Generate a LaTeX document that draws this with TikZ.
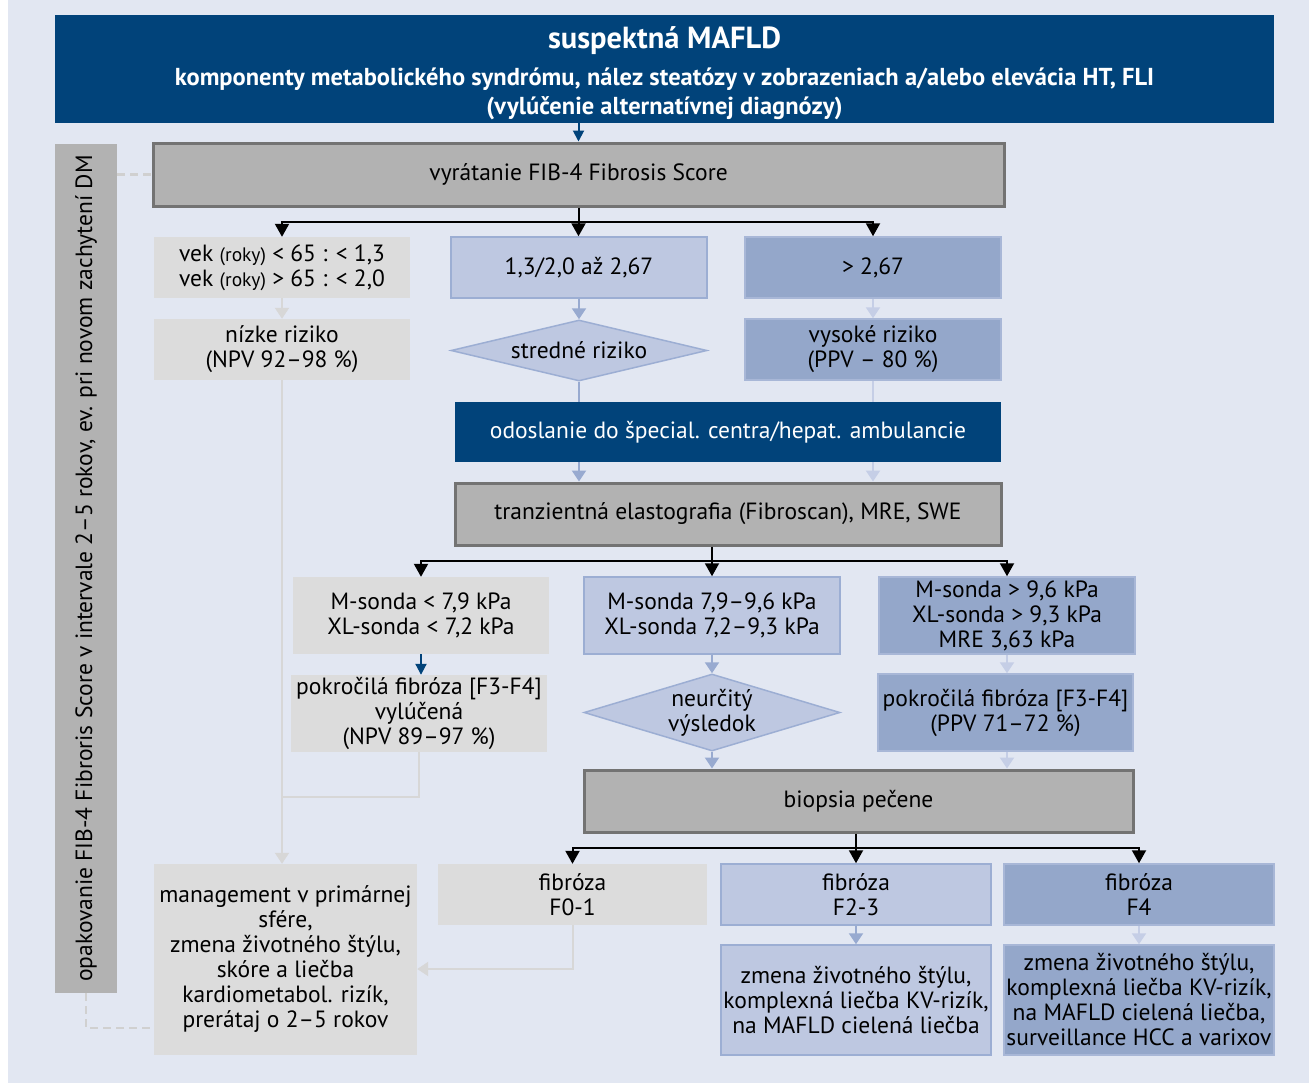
\documentclass[tikz,border=0pt]{standalone}
\usepackage{fontspec}
\setmainfont{PT Sans}
\usetikzlibrary{arrows.meta,shapes.geometric,calc}
\definecolor{bg}{HTML}{E2E7F2}
\definecolor{navy}{HTML}{01437A}
\definecolor{grayfill}{HTML}{B2B2B2}
\definecolor{grayedge}{HTML}{737373}
\definecolor{lgray}{HTML}{DCDCDC}
\definecolor{lblue}{HTML}{BEC8E1}
\definecolor{lblueedge}{HTML}{9CAED3}
\definecolor{mblue}{HTML}{94A7CA}
\definecolor{mblueedge}{HTML}{A8B7D7}
\definecolor{arrmid}{HTML}{98AAD0}
\definecolor{arrlight}{HTML}{C5CEE6}
\definecolor{conn}{HTML}{D7D7D7}
\definecolor{dashc}{HTML}{D0D0D0}
\tikzset{
  base/.style={rectangle, inner sep=0pt, align=center, text=black,
    font=\fontsize{23.5}{25}\selectfont},
  graybox/.style={base, fill=grayfill, draw=grayedge, line width=3pt},
  lgbox/.style={base, fill=lgray},
  lbbox/.style={base, fill=lblue, draw=lblueedge, line width=1.5pt},
  mbbox/.style={base, fill=mblue, draw=mblueedge, line width=1.5pt},
  navybox/.style={base, fill=navy, text=white},
  lbdiam/.style={base, shape=diamond, inner sep=-3pt, fill=lblue, draw=lblueedge, line width=1.5pt},
  hdrtext/.style={inner sep=0pt, text=white, font=\bfseries\fontsize{24.5}{28}\selectfont},
  blkline/.style={draw=black, line width=2pt},
  blkarr/.style={draw=black, line width=2pt, -{Triangle[width=14pt,length=13pt]}},
  navyarr/.style={draw=navy, line width=2pt, -{Triangle[width=11pt,length=11pt]}},
  midarr/.style={draw=arrmid, line width=2pt, -{Triangle[width=14pt,length=11pt]}},
  midline/.style={draw=arrmid, line width=2pt},
  lightarr/.style={draw=arrlight, line width=2pt, -{Triangle[width=14pt,length=11pt]}},
  lightline/.style={draw=arrlight, line width=2pt},
  connarr/.style={draw=conn, line width=2pt, -{Triangle[width=14pt,length=11pt]}},
  connline/.style={draw=conn, line width=2pt},
  dashline/.style={draw=dashc, line width=2.5pt, dash pattern=on 8pt off 5pt},
}
\newcommand{\rokysmall}{{\fontsize{19.5}{20}\selectfont(roky)}}
\begin{document}
\begin{tikzpicture}[x=1pt,y=-1pt]
\useasboundingbox (0,0) rectangle (1309,1084);
\fill[white] (0,0) rectangle (1309,1084);
\fill[bg] (8,0) rectangle (1309,1083);

% header
\node[navybox, minimum width=1219, minimum height=108] (hdr) at (664.5,69) {};
\node[hdrtext, font=\bfseries\fontsize{30.5}{34}\selectfont] (h1) at (664.5,41) {suspektná MAFLD};
\node[hdrtext] (h2) at (664.5,79) {komponenty metabolického syndrómu, nález steatózy v zobrazeniach a/alebo elevácia HT, FLI};
\node[hdrtext] (h3) at (664.5,108) {(vylúčenie alternatívnej diagnózy)};

% sidebar
\node[base, fill=grayfill, rotate=90, minimum width=849, minimum height=62] (side) at (86,568.5)
  {opakovanie FIB-4 Fibroris Score v intervale 2–5 rokov, ev. pri novom zachytení DM};

% FIB
\node[graybox, minimum width=851, minimum height=63] (fib) at (578.5,174.5) {vyrátanie FIB-4 Fibrosis Score};

\node[lgbox, minimum width=256, minimum height=61] (vek) at (282,267.5)
  {vek \rokysmall{} < 65 : < 1,3\\vek \rokysmall{} > 65 : < 2,0};
\node[lbbox, minimum width=256, minimum height=61] (mid1) at (579,267.5) {1,3/2,0 až 2,67};
\node[mbbox, minimum width=256, minimum height=61] (gt) at (873,267.5) {> 2,67};

\node[lgbox, minimum width=256, minimum height=61] (nizke) at (282,349.5) {nízke riziko\\(NPV 92–98 \%)};
\node[lbdiam, minimum width=256, minimum height=61, aspect=4.2] (d1) at (579,350.5) {stredné riziko};
\node[mbbox, minimum width=256, minimum height=61] (vys) at (873,349.5) {vysoké riziko\\(PPV – 80 \%)};

\node[navybox, minimum width=546, minimum height=60] (odo) at (728,432) {odoslanie do špecial. centra/hepat. ambulancie};
\node[graybox, minimum width=546, minimum height=62] (tranz) at (728,514) {tranzientná elastografia (Fibroscan), MRE, SWE};

\node[lgbox, minimum width=256, minimum height=77] (msl) at (421,615.5) {M-sonda < 7,9 kPa\\XL-sonda < 7,2 kPa};
\node[lbbox, minimum width=256, minimum height=77] (msm) at (712,615.5) {M-sonda 7,9–9,6 kPa\\XL-sonda 7,2–9,3 kPa};
\node[mbbox, minimum width=256, minimum height=77] (msr) at (1007,615.5) {M-sonda > 9,6 kPa\\XL-sonda > 9,3 kPa\\MRE 3,63 kPa};

\node[lgbox, minimum width=256, minimum height=77] (pvyl) at (419,713.5) {pokročilá fibróza [F3-F4]\\vylúčená\\(NPV 89–97 \%)};
\node[lbdiam, minimum width=256, minimum height=77, aspect=3.3] (d2) at (712,712.5) {neurčitý\\výsledok};
\node[mbbox, minimum width=255, minimum height=77] (pppv) at (1005.5,712.5) {pokročilá fibróza [F3-F4]\\(PPV 71–72 \%)};

\node[graybox, minimum width=549, minimum height=62] (biop) at (858.5,801) {biopsia pečene};

\node[lgbox, minimum width=269, minimum height=61] (f01) at (572.5,894.5) {fibróza\\F0-1};
\node[lbbox, minimum width=270, minimum height=61] (f23) at (856,894.5) {fibróza\\F2-3};
\node[mbbox, minimum width=270, minimum height=61] (f4) at (1139,894.5) {fibróza\\F4};

\node[lbbox, minimum width=270, minimum height=110] (z1) at (856,1000)
  {zmena životného štýlu,\\komplexná liečba KV-rizík,\\na MAFLD cielená liečba};
\node[mbbox, minimum width=270, minimum height=110] (z2) at (1139,1000)
  {zmena životného štýlu,\\komplexná liečba KV-rizík,\\na MAFLD cielená liečba,\\surveillance HCC a varixov};

\node[lgbox, minimum width=263, minimum height=191] (mgmt) at (285.5,959.5)
  {management v primárnej\\sfére,\\zmena životného štýlu,\\skóre a liečba\\kardiometabol. rizík,\\prerátaj o 2–5 rokov};

% connectors
\draw[navyarr] (fib.north |- hdr.south) -- (fib.north);

\coordinate (j1) at (578.5,222);
\draw[blkline] (fib.south) -- (j1);
\draw[blkarr] (j1) -| (vek.north);
\draw[blkarr] (j1) -- (j1 |- mid1.north);
\draw[blkarr] (j1) -| (gt.north);

\draw[connarr] (vek.south) -- (nizke.north);
\draw[midarr] (mid1.south) -- (d1.north);
\draw[lightarr] (gt.south) -- (vys.north);

\draw[midline] (d1.south) -- (d1.south |- odo.north);
\draw[lightline] (vys.south) -- (vys.south |- odo.north);

\draw[midarr] (odo.south -| d1.south) -- (tranz.north -| d1.south);
\draw[lightarr] (odo.south -| vys.south) -- (tranz.north -| vys.south);

\coordinate (j2) at (712,561);
\draw[blkline] (tranz.south -| j2) -- (j2);
\draw[blkarr] (j2) -| (msl.north);
\draw[blkarr] (j2) -- (msm.north);
\draw[blkarr] (j2) -| (msr.north);

\draw[navyarr] (msl.south) -- (msl.south |- pvyl.north);
\draw[midarr] (msm.south) -- (d2.north);
\draw[lightarr] (msr.south) -- (msr.south |- pppv.north);

\draw[midarr] (d2.south) -- (d2.south |- biop.north);
\draw[lightarr] (msr.south |- pppv.south) -- (msr.south |- biop.north);

\coordinate (j3) at (856,848);
\draw[blkline] (biop.south -| j3) -- (j3);
\draw[blkarr] (j3) -| (f01.north);
\draw[blkarr] (j3) -- (f23.north);
\draw[blkarr] (j3) -| (f4.north);

\draw[midarr] (f23.south) -- (z1.north);
\draw[lightarr] (f4.south) -- (z2.north);

\draw[connarr] (nizke.south) -- (nizke.south |- mgmt.north);
\coordinate (c2) at (419,797);
\draw[connline] (pvyl.south) -- (c2) -- (c2 -| nizke.south);
\coordinate (c1) at (572.5,969);
\draw[connarr] (f01.south) -- (c1) -- (c1 -| mgmt.east);

\draw[dashline] (fib.west -| side.south) -- (fib.west);
\coordinate (dc) at (86,1028);
\draw[dashline] (side.west) -- (dc) -- (dc -| mgmt.west);
\end{tikzpicture}
\end{document}
